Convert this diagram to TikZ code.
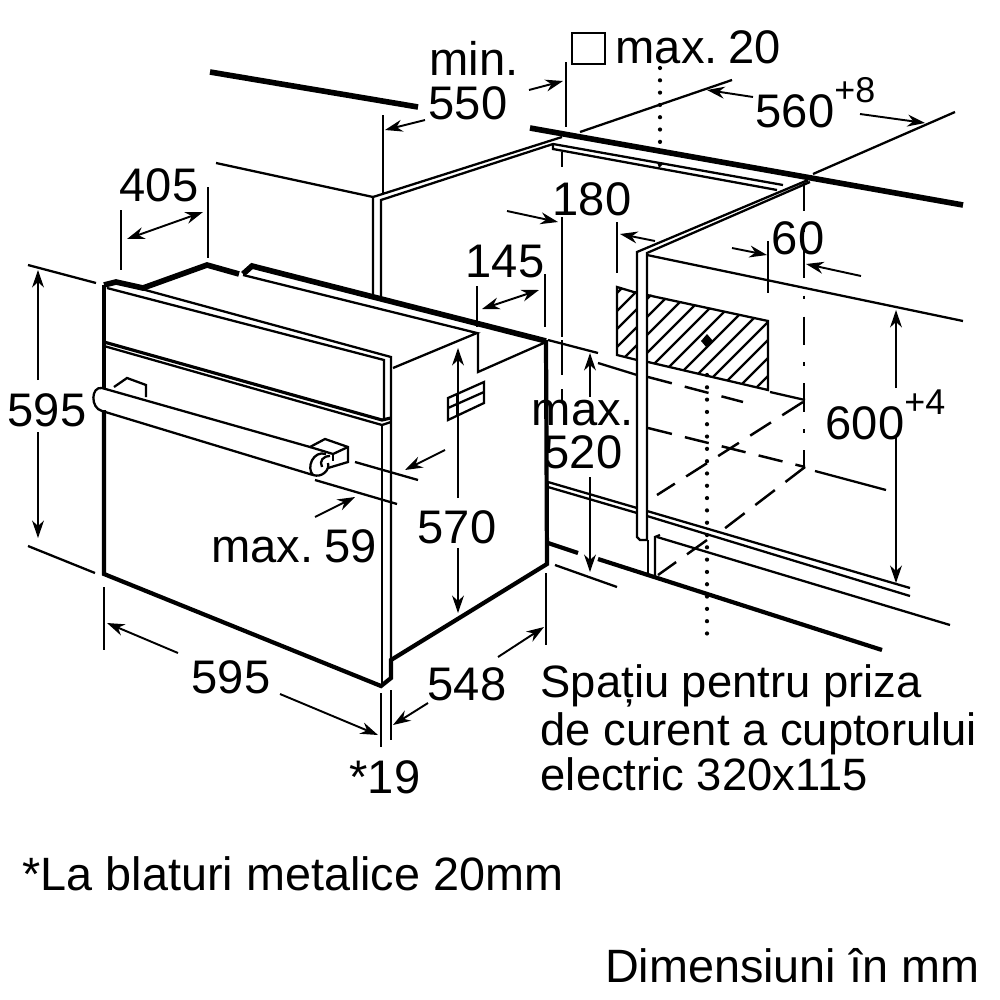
\documentclass[tikz,border=0pt]{standalone}
\usepackage{fontspec}
\setmainfont{Liberation Sans}
\usetikzlibrary{arrows.meta}

\newcommand{\supval}[1]{\raisebox{1.02ex}{\fontsize{10.2}{12}\selectfont #1}}

\tikzset{
	thin line/.style={line width=0.65pt},
	thick line/.style={line width=1.2pt},
	heavy line/.style={line width=1.6pt},
	tip both/.style={{Stealth[length=5pt,width=3.4pt]}-{Stealth[length=5pt,width=3.4pt]}},
	dim/.style={line width=0.55pt, -{Stealth[length=5pt,width=3.4pt]}},
	broken/.style={line width=0.7pt, dash pattern=on 7pt off 3.8pt},
	dots/.style={line width=1.2pt, line cap=round, dash pattern=on 0pt off 3.5pt},
	label/.style={inner sep=0pt, font=\fontsize{13.4}{15}\selectfont},
	textline/.style={inner sep=0pt, font=\fontsize{12.9}{15}\selectfont},
	noteline/.style={inner sep=0pt, font=\fontsize{13.3}{15}\selectfont},
}

\begin{document}
\begin{tikzpicture}[x=0.01cm,y=-0.01cm]

\path [use as bounding box] (0,0) rectangle (1000,1000);

% HATCH
\begin{scope}
	\clip (617,287) -- (768,321) -- (768,390) -- (617,355) -- cycle;
	\foreach \hx in {520,538,...,880} {
		\draw [thin line] (\hx,390) -- ++(110,-110);
	}
\end{scope}
\fill [white] (637,280) rectangle (647,380);
\draw [thin line] (637,293) -- (617,287) -- (617,355) -- (637,360);
\draw [thin line] (647,295) -- (768,321) -- (768,390) -- (648,362);
\fill (707,334) -- (713,341) -- (707,348) -- (701,341) -- cycle;

% OVEN
\draw [thick line] (104,285) -- (104,388);
\draw [thick line] (104,410) -- (104,574) -- (381,686) -- (391,678) -- (391,660) -- (547,564) -- (546,340);
\draw [heavy line] (104,285) -- (116,282) -- (143,288) -- (207,265) -- (239,274);
\draw [heavy line] (243,274) -- (252,266) -- (546,341);
\draw [thin line] (116,282) -- (391,357) -- (391,660);
\draw [thin line] (107,288) -- (384,360) -- (384,420);
\draw [thin line] (382,425) -- (382,686);
\draw [line width=0.9pt] (104,342) -- (382,420) -- (391,418);
\draw [thin line] (104,346) -- (382,425) -- (391,422);
\draw [thin line] (243,275) -- (477,333) -- (393,368);
\draw [thin line] (478,333) -- (478,372) -- (546,342);

% HANDLE
\draw [thin line] (114,387) -- (127,378) -- (146,385) -- (146,397);
\draw [thin line] (102,388) -- (310,447) -- (325,439) -- (348,447) -- (348,462) -- (328,468);
\draw [thin line] (102,388) .. controls (91,386) and (90,408) .. (102,411) -- (313,475);
\draw [thin line] (310,447) -- (333,454) -- (348,447);
\draw [thin line] (333,454) -- (333,461);
\draw [thin line] (313,475) .. controls (306,468) and (313,450) .. (326,454);
\draw [thin line] (313,475) .. controls (322,478) and (330,470) .. (328,463);
\draw [thin line] (322,467) .. controls (319,461) and (323,456) .. (330,456);

% SIDE SLOT
\draw [thin line] (448,398) -- (484,382) -- (484,403) -- (448,420) -- cycle;
\draw [thin line] (448,408) -- (484,392);
\draw [thin line] (457,394) -- (457,415);

% WALL LEFT
\draw [heavy line] (210,72) -- (418,107);
\draw [thin line] (216,163) -- (373,197);
\draw [thin line] (373,295) -- (373,197) -- (562,137);
\draw [thin line] (381,298) -- (381,200) -- (553,144);

% COUNTER
\draw [heavy line] (530,128) -- (963,205);
\draw [thin line] (553,144) -- (783,185);
\draw [thin line] (553,144) -- (553,149) -- (777,190);
\fill (657,162) -- (664,163) -- (659,168) -- cycle;
\draw [thin line] (580,132) -- (732,80);
\draw [thin line] (813,174) -- (955,112);

% WALL RIGHT
\draw [thin line] (808,180) -- (637,252) -- (637,537) -- (640,540) -- (647,540) -- (647,253) -- (810,182);
\draw [thin line] (647,255) -- (963,321);
\draw [thin line] (648,540) -- (648,575);
\draw [thin line] (655,577) -- (655,537) -- (660,535);

% FLOOR
\draw [thin line] (548,482) -- (637,508);
\draw [thin line] (548,487) -- (637,513);
\draw [thin line] (647,511) -- (910,588);
\draw [thin line] (647,516) -- (910,596);
\draw [thin line] (657,537) -- (950,625);
\draw [thick line] (548,543) -- (578,553);
\draw [thick line] (598,559) -- (882,650);

% NICHE
\draw [thin line] (598,363) -- (637,375);
\draw [thin line] (770,392) -- (805,400);
\draw [broken] (648,377) -- (743,402);
\draw [broken] (803,402) -- (657,495);
\draw [broken] (648,428) -- (805,467);
\draw [broken] (805,467) -- (720,532);
\draw [broken] (707,540) -- (658,575);
\draw [thin line] (815,471) -- (886,490);
\draw [line width=0.65pt, dash pattern=on 8pt off 5pt on 1pt off 5pt] (804,183) -- (804,467);
\draw [line width=0.65pt, dash pattern=on 10pt off 4pt] (562,340) -- (562,400);

% SOCKET AXIS
\draw [dots] (660,68) -- (660,142);
\draw [dots] (707,375) -- (707,637);

% DIMENSIONS
\draw [thin line] (120.7,210) -- (120.7,270);
\draw [thin line] (208,187) -- (208,258);
\draw [dim, tip both] (127,239) -- (203,212);
\draw [thin line] (28,265) -- (96,283);
\draw [thin line] (28,546) -- (95,573);
\draw [dim] (38,380) -- (38,270);
\draw [dim] (38,432) -- (38,538);
\draw [thin line] (355,462) -- (418,480);
\draw [thin line] (315,480) -- (397,504);
\draw [dim] (445,450) -- (405,470);
\draw [dim] (315,517) -- (355,497);
\draw [dim] (458,498) -- (458,348);
\draw [dim] (458,548) -- (458,613);
\draw [thin line] (104,587) -- (104,650);
\draw [dim] (178,653) -- (107,623);
\draw [dim] (280,694) -- (378,735);
\draw [thin line] (381,693) -- (381,747);
\draw [thin line] (391,690) -- (391,740);
\draw [dim] (428,703) -- (393,725);
\draw [dim] (498,657) -- (544,627);
\draw [thin line] (546,573) -- (546,645);
\draw [thin line] (383,115) -- (383,195);
\draw [dim] (425,120) -- (385,130);
\draw [dim] (529,90) -- (563,81);
\draw [thin line] (566,62) -- (566,127);
\draw [thin line] (562,152) -- (562,167);
\draw [dim] (753,97) -- (707,90);
\draw [dim] (860,114) -- (925,123);
\draw [thin line] (562,217) -- (562,337);
\draw [dim] (507,211) -- (558,222);
\draw [thin line] (617,222) -- (617,273);
\draw [dim] (655,241) -- (620,234);
\draw [thin line] (477,286) -- (477,327);
\draw [thin line] (545,274) -- (545,327);
\draw [dim, tip both] (482,309) -- (539,290);
\draw [thin line] (768,241) -- (768,293);
\draw [dim] (732,248) -- (767,255);
\draw [dim] (861,276) -- (806,264);
\draw [thin line] (548,340) -- (598,353);
\draw [thin line] (555,565) -- (617,587);
\draw [dim] (590,397) -- (590,353);
\draw [dim] (590,477) -- (590,572);
\draw [dim] (896,388) -- (896,310);
\draw [dim] (896,435) -- (896,583);
\draw [thin line] (572,33) rectangle (605,64);

% LABELS
\node [label] (l405) at (159,185) {405};
\node [label] (l595a) at (47,410) {595};
\node [label] (l145) at (505,262) {145};
\node [label] (lmin) at (474,58) {min.};
\node [label] (l550) at (468,103) {550};
\node [label, anchor=west] (lmax20) at (615,47) {max.\hspace{3pt}20};
\node [label, anchor=west] (l560) at (755,103) {560\supval{+8}};
\node [label] (l180) at (592,199) {180};
\node [label] (l60) at (798,238) {60};
\node [label, anchor=west] (l600) at (825,415) {600\supval{+4}};
\node [label] (lmax) at (583,413) {max.};
\node [label] (l520) at (583,452) {520};
\node [label] (l570) at (457,527) {570};
\node [label] (lmax59) at (294,546) {max.\hspace{3pt}59};
\node [label] (l595b) at (231,677) {595};
\node [label] (l548) at (467,684) {548};
\node [label] (l19) at (385,777) {*19};
\node [textline, anchor=base west] (lspace1) at (540,697) {Spațiu pentru priza};
\node [textline, anchor=base west] (lspace2) at (540,745) {de curent a cuptorului};
\node [textline, anchor=base west] (lspace3) at (540,790) {electric 320x115};
\node [noteline, anchor=base west] (lnote) at (22,890) {*La blaturi metalice 20mm};
\node [noteline, anchor=base east] (lunit) at (980,982) {Dimensiuni în mm};

\end{tikzpicture}
\end{document}
